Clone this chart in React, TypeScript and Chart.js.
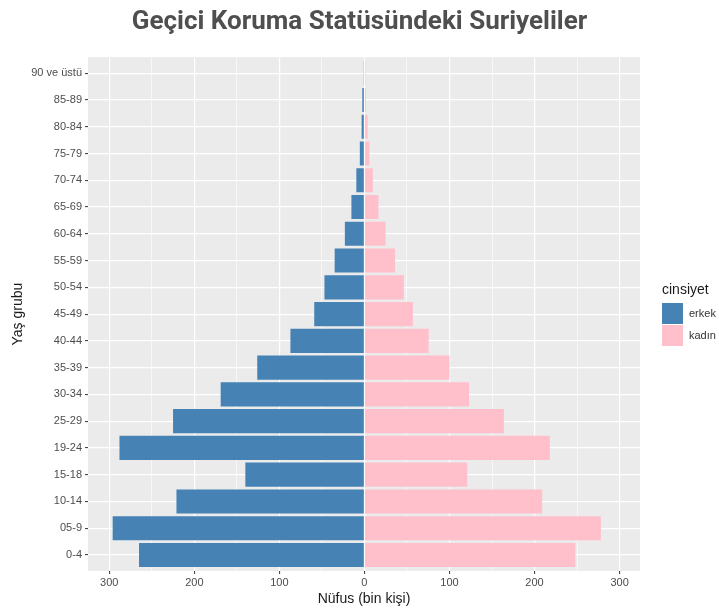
import React, { useEffect, useRef } from "react";
import { Chart, registerables } from "chart.js";

Chart.register(...registerables);

// Age groups, bottom (youngest) to top (oldest)
const ageGroups = [
  "0-4", "05-9", "10-14", "15-18", "19-24", "25-29", "30-34", "35-39", "40-44",
  "45-49", "50-54", "55-59", "60-64", "65-69", "70-74", "75-79", "80-84", "85-89", "90 ve üstü",
];
// Population in thousands
const maleValues = [265, 296, 221, 140, 288, 225, 169, 126, 87, 59, 47, 35, 23, 15.3, 9.5, 5.4, 3.3, 2.5, 0.5];
const femaleValues = [248, 278, 209, 121, 218, 164, 123, 100, 75.6, 57, 46.3, 36, 24.8, 16.5, 9.9, 5.8, 3.8, 1.7, 1.2];
const seriesNames = ["erkek", "kadın"];
const seriesColors = ["#4682B4", "#FFC0CB"];
// x grid positions (major every 100, minor every 50); labels shown as absolute values on majors
const xGridValues = [-300, -250, -200, -150, -100, -50, 0, 50, 100, 150, 200, 250, 300];
const xMajorValues = [-300, -200, -100, 0, 100, 200, 300];
const xMin = -325;
const xMax = 324;

const titleText = "Geçici Koruma Statüsündeki Suriyeliler";
const xTitle = "Nüfus (bin kişi)";
const yTitle = "Yaş grubu";
const legendTitle = "cinsiyet";

const FONT = "'Liberation Sans', Arial, sans-serif";

export default function App() {
  const canvasRef = useRef<HTMLCanvasElement>(null);

  useEffect(() => {
    const canvas = canvasRef.current;
    if (!canvas) return;

    const panelBg = {
      id: "panelBg",
      beforeDraw(chart: any) {
        const { ctx, chartArea } = chart;
        ctx.save();
        ctx.fillStyle = "#EBEBEB";
        ctx.fillRect(chartArea.left, chartArea.top, chartArea.right - chartArea.left, chartArea.bottom - chartArea.top);
        ctx.restore();
      },
    };

    const ggLegend = {
      id: "ggLegend",
      afterDraw(chart: any) {
        const c = chart.ctx;
        const x0 = chart.chartArea.right + 22;
        c.save();
        c.textAlign = "left";
        c.textBaseline = "middle";
        c.font = `14px ${FONT}`;
        c.fillStyle = "#1A1A1A";
        c.fillText(legendTitle, x0, 290);
        chart.data.datasets.forEach((ds: any, i: number) => {
          const y = 303 + i * 22;
          c.fillStyle = ds.backgroundColor;
          c.fillRect(x0, y, 21, 21);
          c.font = `11px ${FONT}`;
          c.fillStyle = "#333333";
          c.fillText(ds.label, x0 + 27, y + 11);
        });
        c.restore();
      },
    };

    const isMajor = (v: number) => xMajorValues.includes(Math.round(v));

    const chart = new Chart(canvas, {
      type: "bar",
      data: {
        datasets: [
          {
            label: seriesNames[0],
            data: maleValues.map((v, i) => ({ x: -v, y: i })),
            backgroundColor: seriesColors[0],
            borderWidth: 0,
          },
          {
            label: seriesNames[1],
            data: femaleValues.map((v, i) => ({ x: v, y: i })),
            backgroundColor: seriesColors[1],
            borderWidth: 0,
          },
        ],
      },
      options: {
        indexAxis: "y",
        animation: false,
        responsive: false,
        events: [],
        categoryPercentage: 0.9,
        barPercentage: 1,
        layout: { padding: 0 },
        plugins: {
          legend: { display: false },
          tooltip: { enabled: false },
          title: {
            display: true,
            text: titleText,
            color: "#4F4F4F",
            font: { family: "Roboto, 'Liberation Sans', sans-serif", size: 26, weight: "bold" },
            padding: { top: 7, bottom: 19 },
          },
        },
        scales: {
          x: {
            type: "linear",
            stacked: true,
            offset: false,
            min: xMin,
            max: xMax,
            border: { display: false },
            afterBuildTicks: (scale: any) => {
              scale.ticks = xGridValues.map((v) => ({ value: v }));
            },
            grid: {
              offset: false,
              color: "#FFFFFF",
              lineWidth: (ctx: any) => (ctx.tick && isMajor(ctx.tick.value) ? 1.2 : 0.6),
              tickColor: (ctx: any) => (ctx.tick && isMajor(ctx.tick.value) ? "#333333" : "rgba(0,0,0,0)"),
              tickLength: 3,
              tickWidth: 1,
            },
            ticks: {
              autoSkip: false,
              maxRotation: 0,
              minRotation: 0,
              padding: 2,
              color: "#4D4D4D",
              font: { family: FONT, size: 11 },
              callback: (v: any) => (isMajor(Number(v)) ? String(Math.abs(Math.round(Number(v)))) : ""),
            },
            title: {
              display: true,
              text: xTitle,
              color: "#1A1A1A",
              font: { family: FONT, size: 14 },
              padding: { top: 0, bottom: 3 },
            },
            afterFit: (scale: any) => {
              scale.height = 40;
            },
          },
          y: {
            type: "linear",
            stacked: true,
            offset: false,
            min: -0.6,
            max: ageGroups.length - 1 + 0.6,
            border: { display: false },
            grid: {
              offset: false,
              color: "#FFFFFF",
              lineWidth: 1.2,
              tickColor: "#333333",
              tickLength: 3,
              tickWidth: 1,
            },
            ticks: {
              stepSize: 1,
              includeBounds: false,
              autoSkip: false,
              padding: 3,
              color: "#4D4D4D",
              font: { family: FONT, size: 11 },
              callback: (v: any) => ageGroups[Math.round(Number(v))] ?? "",
            },
            title: {
              display: true,
              text: yTitle,
              color: "#1A1A1A",
              font: { family: FONT, size: 14 },
              padding: { top: 10, bottom: 0 },
            },
            afterFit: (scale: any) => {
              scale.width = 88;
            },
          },
          // empty right-hand axis that reserves the space used by the legend
          legendSpace: {
            type: "linear",
            position: "right",
            display: true,
            border: { display: false },
            grid: { display: false, drawTicks: false },
            ticks: { display: false },
            afterFit: (scale: any) => {
              scale.width = 79;
            },
          },
        },
      },
      plugins: [panelBg, ggLegend],
    } as any);

    return () => chart.destroy();
  }, []);

  return (
    <div style={{ position: "absolute", left: 0, top: 0, width: 719, height: 611, background: "#FFFFFF" }}>
      <canvas ref={canvasRef} width={719} height={611} style={{ display: "block", width: 719, height: 611 }} />
    </div>
  );
}
